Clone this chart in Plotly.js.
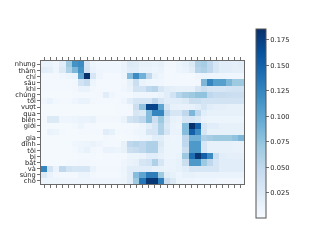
<!DOCTYPE html>
<html><head><meta charset="utf-8">
<script src="https://cdn.plot.ly/plotly-3.0.1.min.js"></script>
<style>html,body{margin:0;padding:0;background:#fff}#chart{filter:blur(0.3px)}</style></head>
<body><div id="chart" style="width:327px;height:245px"></div>
<script>
const yLabels = ["nhưng","thâm","chí","sâu","khi","chúng","tôi","vượt","qua","biên","giới","","gia","đình","tôi","bị","bắt","và","súng","chó"];
const xIndex = [0,1,2,3,4,5,6,7,8,9,10,11,12,13,14,15,16,17,18,19,20,21,22,23,24,25,26,27,28,29,30,31,32];
const yIndex = [0,1,2,3,4,5,6,7,8,9,10,11,12,13,14,15,16,17,18,19];
const r0 = [.012,.012,.007,.02,.07,.115,.12,.03,.01,.007,.007,.007,.007,.012,.025,.022,.015,.015,.012,.014,.006,.006,.01,.015,.025,.06,.065,.05,.03,.02,.02,.018,.02];
const r1 = [.02,.018,.008,.025,.06,.085,.115,.035,.012,.008,.007,.007,.007,.012,.02,.02,.012,.012,.01,.012,.005,.005,.008,.012,.02,.055,.06,.05,.03,.02,.02,.018,.018];
const r2 = [.004,.004,.004,.007,.01,.012,.1,.185,.03,.008,.005,.005,.005,.01,.08,.12,.09,.05,.015,.008,.005,.005,.005,.005,.005,.008,.01,.008,.008,.008,.007,.007,.007];
const r3 = [.004,.004,.004,.004,.005,.006,.035,.045,.01,.005,.005,.005,.005,.006,.015,.04,.012,.008,.007,.007,.005,.005,.005,.005,.005,.006,.085,.125,.105,.105,.085,.07,.07];
const r4 = [.004,.004,.004,.004,.005,.006,.012,.012,.006,.005,.005,.005,.005,.007,.012,.035,.035,.05,.055,.03,.02,.018,.015,.014,.014,.03,.04,.032,.03,.03,.033,.035,.035];
const r5 = [.003,.003,.003,.003,.003,.004,.004,.004,.004,.006,.02,.008,.004,.004,.005,.008,.008,.008,.008,.012,.02,.035,.055,.065,.07,.075,.075,.05,.045,.045,.042,.04,.04];
const r6 = [.007,.012,.006,.004,.004,.008,.012,.012,.006,.005,.005,.005,.005,.008,.02,.03,.03,.03,.05,.03,.02,.02,.02,.025,.04,.04,.035,.035,.035,.035,.035,.035,.035];
const r7 = [.003,.003,.003,.003,.003,.003,.003,.003,.003,.003,.003,.003,.004,.004,.006,.04,.075,.17,.17,.1,.03,.015,.013,.013,.015,.02,.03,.02,.018,.018,.015,.015,.015];
const r8 = [.003,.003,.003,.003,.003,.003,.003,.003,.003,.003,.003,.003,.004,.004,.005,.03,.025,.08,.125,.125,.05,.03,.03,.05,.085,.05,.02,.015,.015,.015,.015,.015,.015];
const r9 = [.004,.025,.025,.008,.008,.01,.012,.012,.015,.006,.006,.006,.006,.012,.035,.04,.05,.08,.04,.07,.03,.015,.012,.03,.03,.025,.012,.01,.01,.01,.01,.01,.01];
const r10 = [.003,.003,.003,.003,.003,.004,.01,.005,.004,.003,.003,.003,.003,.004,.005,.006,.01,.02,.03,.06,.025,.012,.01,.08,.185,.15,.03,.02,.02,.015,.015,.015,.015];
const r11 = [.003,.012,.01,.004,.003,.003,.004,.004,.004,.004,.02,.015,.005,.005,.006,.008,.01,.03,.03,.06,.03,.012,.012,.08,.15,.12,.03,.015,.015,.015,.015,.015,.015];
const r12 = [.003,.003,.003,.003,.003,.003,.003,.003,.003,.003,.006,.004,.003,.003,.005,.006,.008,.01,.02,.02,.01,.008,.01,.05,.09,.09,.06,.065,.07,.07,.07,.075,.085];
const r13 = [.003,.003,.003,.003,.003,.007,.008,.01,.012,.008,.004,.004,.004,.015,.05,.055,.05,.06,.06,.025,.01,.01,.01,.05,.11,.11,.03,.015,.015,.015,.015,.013,.013];
const r14 = [.003,.003,.003,.003,.003,.004,.01,.015,.006,.005,.012,.012,.01,.015,.04,.045,.05,.06,.06,.02,.01,.01,.01,.04,.11,.11,.03,.015,.015,.015,.015,.013,.013];
const r15 = [.003,.003,.003,.003,.003,.003,.004,.004,.004,.003,.004,.004,.004,.005,.01,.01,.012,.02,.02,.015,.01,.01,.012,.07,.14,.18,.15,.12,.04,.02,.018,.018,.018];
const r16 = [.003,.003,.003,.003,.004,.005,.006,.006,.005,.004,.005,.005,.005,.008,.012,.015,.03,.035,.06,.03,.012,.012,.015,.04,.11,.11,.07,.05,.03,.02,.02,.02,.02];
const r17 = [.125,.035,.012,.05,.035,.03,.03,.03,.012,.006,.006,.006,.006,.01,.02,.02,.02,.02,.015,.015,.012,.012,.015,.02,.03,.03,.03,.03,.03,.02,.02,.02,.02];
const r18 = [.025,.012,.006,.005,.005,.005,.01,.01,.006,.005,.004,.004,.004,.008,.02,.08,.1,.13,.13,.07,.02,.015,.01,.015,.015,.012,.012,.012,.012,.012,.012,.012,.012];
const r19 = [.01,.01,.01,.008,.008,.008,.008,.008,.008,.008,.008,.008,.008,.01,.02,.07,.135,.18,.18,.13,.04,.025,.01,.008,.008,.007,.007,.007,.007,.006,.006,.006,.006];
const rows = [r0,r1,r2,r3,r4,r5,r6,r7,r8,r9,r10,r11,r12,r13,r14,r15,r16,r17,r18,r19];
const cbTicks = [0.025,0.05,0.075,0.1,0.125,0.15,0.175];
const cbText = ["0.025","0.050","0.075","0.100","0.125","0.150","0.175"];
const blues = [[0,"#f7fbff"],[0.125,"#deebf7"],[0.25,"#c6dbef"],[0.375,"#9ecae1"],[0.5,"#6baed6"],[0.625,"#4292c6"],[0.75,"#2171b5"],[0.875,"#08519c"],[1,"#08306b"]];
const fnt = {family:"DejaVu Sans",size:6.7,color:"#222"};
Plotly.newPlot("chart",[{type:"heatmap",x:xIndex,y:yIndex,z:rows,zmin:0,zmax:0.185,colorscale:blues,
  colorbar:{lenmode:"pixels",len:189,thicknessmode:"pixels",thickness:10,x:1.059,xanchor:"left",xpad:0,y:0.488,yanchor:"middle",ypad:0,
    tickmode:"array",tickvals:cbTicks,ticktext:cbText,ticks:"outside",ticklen:3,tickwidth:0.7,tickcolor:"#333",tickfont:fnt,outlinecolor:"#555",outlinewidth:1}}],
 {width:327,height:245,margin:{l:41,r:83,t:61,b:61,pad:0,autoexpand:false},paper_bgcolor:"#fff",plot_bgcolor:"#fff",font:fnt,
  xaxis:{range:[-0.5,32.5],tickmode:"array",tickvals:xIndex,showticklabels:false,ticks:"outside",ticklen:3,tickwidth:0.7,tickcolor:"#333",showline:true,linecolor:"#444",linewidth:0.8,mirror:"allticks",showgrid:false,zeroline:false},
  yaxis:{range:[19.5,-0.5],tickmode:"array",tickvals:yIndex,ticktext:yLabels,ticks:"outside",ticklen:3,tickwidth:0.7,tickcolor:"#333",tickfont:fnt,showline:true,linecolor:"#444",linewidth:0.8,mirror:true,showgrid:false,zeroline:false}},
 {displayModeBar:false,staticPlot:true});
</script></body></html>
